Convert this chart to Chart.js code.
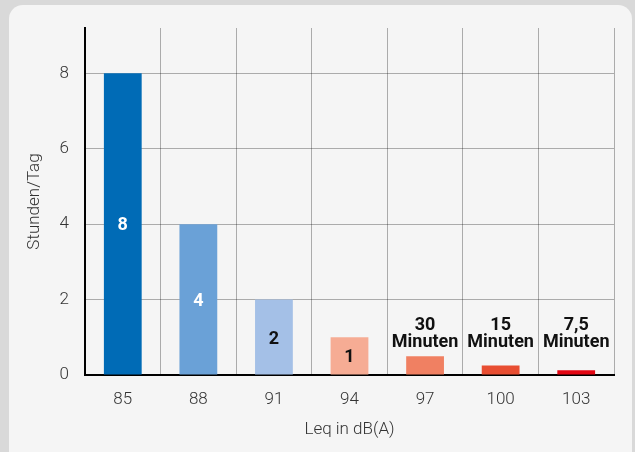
<!DOCTYPE html>
<html>
<head>
<meta charset="utf-8">
<script src="https://cdn.jsdelivr.net/npm/chart.js@4"></script>
<style>
  html, body { margin: 0; padding: 0; }
  body { width: 635px; height: 452px; background: #d9d9d9; position: relative; overflow: hidden; }
  #panel { position: absolute; left: 9px; top: 5px; width: 623px; height: 470px; background: #f5f5f5; border-radius: 14px; }
  #c { position: absolute; left: 0; top: 0; }
</style>
</head>
<body>
<div id="panel"></div>
<canvas id="c" width="635" height="452"></canvas>
<script>
// Leq in dB(A) -> erlaubte Stunden pro Tag
const categories = ['85', '88', '91', '94', '97', '100', '103'];
const hours = [8, 4, 2, 1, 0.5, 0.25, 0.125];
const barLabels = [['8'], ['4'], ['2'], ['1'], ['30', 'Minuten'], ['15', 'Minuten'], ['7,5', 'Minuten']];
const yTicks = [0, 2, 4, 6, 8];

const barColors = ['#006bb6', '#6aa1d7', '#a4c0e7', '#f6ac94', '#f08062', '#e84e32', '#e30613'];
const labelColors = ['#ffffff', '#ffffff', '#111111', '#111111', '#111111', '#111111', '#111111'];
const gridColor = 'rgba(0,0,0,0.3)';

const barLabelPlugin = {
    id: 'barLabels',
    afterDatasetsDraw(chart) {
        const ctx = chart.ctx;
        const y = chart.scales.y;
        ctx.save();
        ctx.font = 'bold 18px Roboto';
        ctx.textAlign = 'center';
        chart.getDatasetMeta(0).data.forEach((bar, i) => {
            const lines = barLabels[i];
            ctx.fillStyle = labelColors[i];
            if (lines.length === 1) {
                ctx.textBaseline = 'middle';
                ctx.fillText(lines[0], bar.x, (bar.y + bar.base) / 2 + 2);
            } else {
                // mehrzeilig über kleinen Balken, alle auf gleicher Höhe
                ctx.textBaseline = 'alphabetic';
                const base = y.getPixelForValue(0.74);
                lines.forEach((t, k) => ctx.fillText(t, bar.x, base - (lines.length - 1 - k) * 17));
            }
        });
        ctx.restore();
    }
};

new Chart(document.getElementById('c'), {
    type: 'bar',
    data: {
        labels: categories,
        datasets: [{
            data: hours,
            backgroundColor: barColors,
            borderWidth: 0,
            barPercentage: 0.5,
            categoryPercentage: 1
        }]
    },
    options: {
        responsive: false,
        animation: false,
        layout: { padding: { top: 28, right: 21, left: 0, bottom: 0 } },
        plugins: { legend: { display: false }, tooltip: { enabled: false } },
        scales: {
            x: {
                afterFit(scale) { scale.height = 77; },
                grid: {
                    drawTicks: false,
                    color: c => (c.index === 0 || c.index === categories.length) ? 'transparent' : gridColor,
                    lineWidth: 1
                },
                border: { display: true, color: '#000', width: 2 },
                ticks: { color: '#333', padding: 15, font: { family: 'Roboto', size: 17, weight: '300' } },
                title: {
                    display: true, text: 'Leq in dB(A)', color: '#333',
                    padding: { top: 0, bottom: 12 },
                    font: { family: 'Roboto', size: 17, weight: '300' }
                }
            },
            y: {
                min: 0,
                max: 9.2,
                afterFit(scale) { scale.width = 85; },
                afterBuildTicks(scale) { scale.ticks = yTicks.map(v => ({ value: v })); },
                grid: {
                    drawTicks: false,
                    color: c => (c.tick && c.tick.value === 0) ? 'transparent' : gridColor,
                    lineWidth: 1
                },
                border: { display: true, color: '#000', width: 2 },
                ticks: { color: '#333', padding: 16, font: { family: 'Roboto', size: 17, weight: '300' } },
                title: {
                    display: true, text: 'Stunden/Tag', color: '#333',
                    padding: { top: 25, bottom: 0 },
                    font: { family: 'Roboto', size: 17, weight: '300' }
                }
            }
        }
    },
    plugins: [barLabelPlugin]
});
</script>
</body>
</html>
